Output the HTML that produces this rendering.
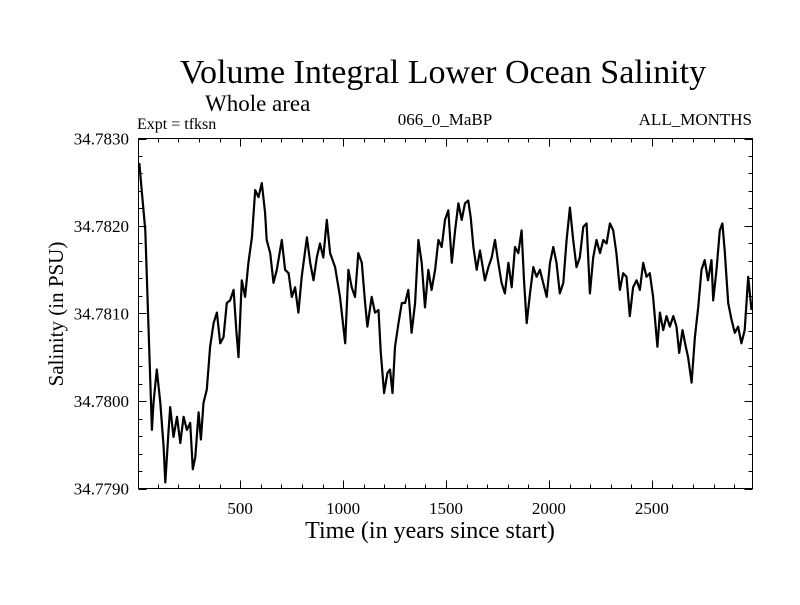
<!DOCTYPE html>
<html><head><meta charset="utf-8"><style>
body{margin:0;background:#fff;}
svg text{font-family:"Liberation Serif",serif;fill:#000;}
</style></head><body>
<svg id="c" width="800" height="600">
<rect width="800" height="600" fill="#fff"/>
<text x="443" y="83" font-size="34" text-anchor="middle">Volume Integral Lower Ocean Salinity</text>
<text x="205" y="111" font-size="23">Whole area</text>
<text x="137" y="129" font-size="16">Expt = tfksn</text>
<text x="445" y="125" font-size="17" text-anchor="middle">066_0_MaBP</text>
<text x="752" y="125" font-size="17" text-anchor="end">ALL_MONTHS</text>
<text x="430" y="538" font-size="24" text-anchor="middle">Time (in years since start)</text>
<text transform="translate(63,314) rotate(-90)" font-size="21" text-anchor="middle">Salinity (in PSU)</text>
<g id="ax"></g>
<path id="ln" fill="none" stroke="#000" stroke-width="2.2" stroke-linejoin="round"/>
<rect x="138.5" y="138.5" width="614" height="350" fill="none" stroke="#000" stroke-width="1"/>
</svg>
<script>
const years=[10,23,39,55,71,79,95,112,128,136,152,160,176,193,209,225,241,257,270,282,298,309,322,338,354,371,387,403,419,435,451,468,481,492,508,524,540,557,573,589,605,621,629,646,662,678,702,718,735,751,767,783,799,824,840,856,872,888,904,921,937,961,985,1010,1026,1042,1058,1074,1091,1107,1118,1139,1155,1172,1183,1199,1215,1228,1240,1252,1269,1285,1301,1317,1333,1350,1366,1382,1398,1414,1430,1447,1463,1479,1495,1511,1528,1544,1560,1576,1592,1608,1620,1633,1649,1665,1689,1706,1722,1738,1754,1770,1786,1803,1819,1835,1851,1867,1879,1892,1908,1924,1940,1956,1972,1989,2005,2021,2037,2053,2070,2086,2102,2118,2134,2150,2167,2183,2199,2215,2231,2248,2264,2280,2296,2312,2328,2345,2361,2377,2393,2409,2426,2442,2458,2474,2490,2506,2527,2539,2555,2571,2587,2604,2620,2633,2649,2665,2676,2693,2709,2725,2741,2757,2773,2790,2798,2814,2830,2843,2854,2871,2887,2903,2919,2935,2951,2968,2984];
const salinity=[34.78272,34.78237,34.78195,34.78081,34.77967,34.77998,34.78036,34.77998,34.77948,34.77907,34.77967,34.77993,34.77959,34.77982,34.77952,34.77982,34.77967,34.77975,34.77922,34.77936,34.77987,34.77956,34.77998,34.78013,34.78062,34.78089,34.78101,34.78066,34.78073,34.78112,34.78115,34.78127,34.78081,34.7805,34.78138,34.78119,34.78158,34.78187,34.78241,34.78233,34.78249,34.78215,34.78184,34.78169,34.78135,34.78150,34.78184,34.7815,34.78146,34.78119,34.7813,34.78101,34.78142,34.78187,34.78158,34.78138,34.78164,34.7818,34.78164,34.78207,34.78169,34.78153,34.78119,34.78066,34.7815,34.7813,34.78119,34.78169,34.78158,34.78112,34.78085,34.78119,34.78101,34.78104,34.78055,34.78009,34.78032,34.78036,34.78009,34.78062,34.78089,34.78112,34.78112,34.78127,34.78078,34.78112,34.78184,34.78158,34.78107,34.7815,34.78127,34.7815,34.78184,34.78176,34.78207,34.78218,34.78158,34.78195,34.78226,34.78207,34.78226,34.78229,34.7821,34.78176,34.7815,34.78172,34.78138,34.78153,34.78164,34.78184,34.78158,34.78135,34.78123,34.78158,34.7813,34.78176,34.78169,34.78195,34.78138,34.78089,34.78123,34.78153,34.78142,34.7815,34.78135,34.78119,34.78158,34.78176,34.78158,34.78123,34.78135,34.78184,34.78221,34.78184,34.78153,34.78164,34.78199,34.78203,34.78123,34.78164,34.78184,34.78169,34.78184,34.7818,34.78203,34.78195,34.78169,34.78127,34.78146,34.78142,34.78097,34.7813,34.78138,34.78127,34.78158,34.78142,34.78146,34.78119,34.78062,34.78101,34.78081,34.78097,34.78085,34.78097,34.78085,34.78055,34.78081,34.78062,34.7805,34.78021,34.78073,34.78107,34.7815,34.78161,34.78138,34.78161,34.78115,34.7815,34.78195,34.78203,34.78172,34.78112,34.78093,34.78078,34.78085,34.78066,34.78081,34.78142,34.78104];
const xTicks=[500,1000,1500,2000,2500];
const yTicks=[34.779,34.780,34.781,34.782,34.783];
const yTickLabels=["34.7790","34.7800","34.7810","34.7820","34.7830"];
const X0=138.5,X1=752.5,Y0=488.5,Y1=138.5,XMIN=6,XMAX=2989,YMIN=34.779,YMAX=34.783;
function sx(t){return X0+(t-XMIN)/(XMAX-XMIN)*(X1-X0);}
function sy(v){return Y0-(v-YMIN)/(YMAX-YMIN)*(Y0-Y1);}
const NS="http://www.w3.org/2000/svg",ax=document.getElementById('ax');
function ln(x1,y1,x2,y2,name){const l=document.createElementNS(NS,'line');l.setAttribute('x1',x1);l.setAttribute('y1',y1);l.setAttribute('x2',x2);l.setAttribute('y2',y2);l.setAttribute('stroke','#000');


ax.appendChild(l);}
function tx(x,y,s,anchor,name){const t=document.createElementNS(NS,'text');t.setAttribute('x',x);t.setAttribute('y',y);t.setAttribute('font-size','17');t.setAttribute('text-anchor',anchor);t.textContent=s;


ax.appendChild(t);}
for(let t=100;t<XMAX;t+=100){const x=Math.round(sx(t))+0.5,L=(t%500===0)?8:4;ln(x,Y0,x,Y0-L,'x-tick');ln(x,Y1,x,Y1+L,'x-tick-top');}
xTicks.forEach(t=>tx(sx(t),514,String(t),'middle','x-tick-label'));
for(let i=0;i<=20;i++){const v=YMIN+i*0.0002,y=Math.round(sy(v))+0.5,L=(i%5===0)?8:4;ln(X0,y,X0+L,y,'y-tick');ln(X1,y,X1-L,y,'y-tick-right');}
yTicks.forEach((v,i)=>tx(129,sy(v)+6,yTickLabels[i],'end','y-tick-label'));
document.getElementById('ln').setAttribute('d',years.map((t,i)=>(i?'L':'M')+sx(t).toFixed(1)+' '+sy(salinity[i]).toFixed(1)).join(' '));
</script>
</body></html>
